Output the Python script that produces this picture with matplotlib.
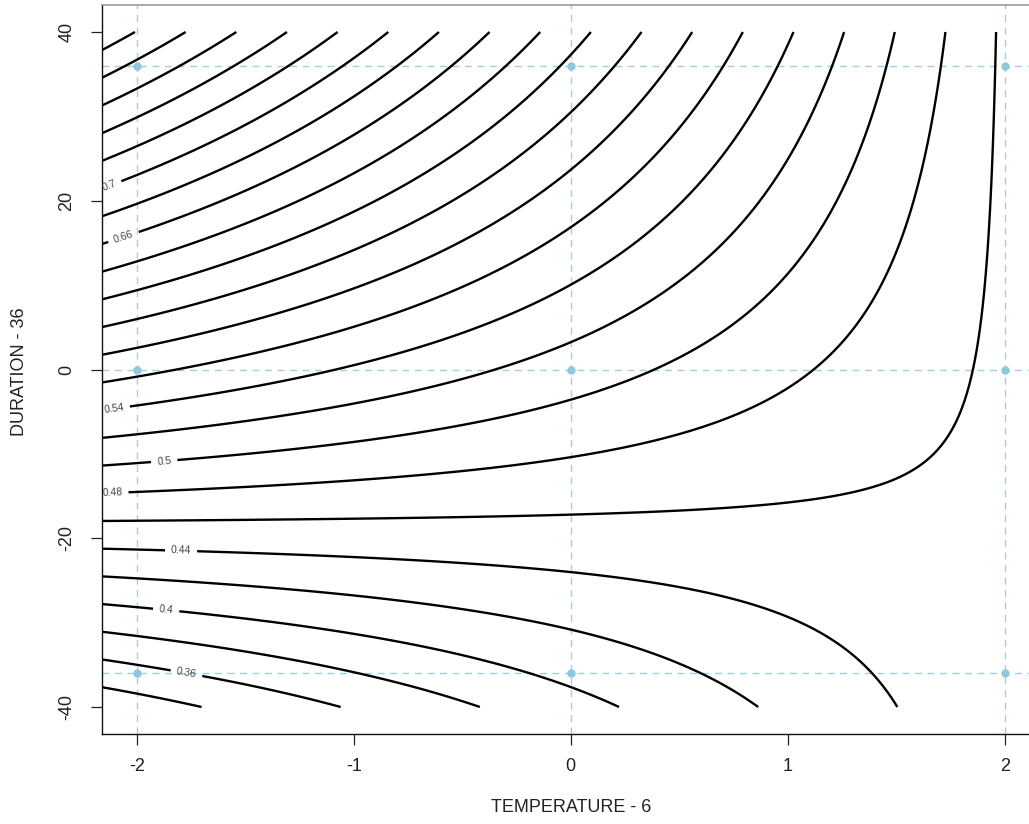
import numpy as np
import matplotlib
matplotlib.use("Agg")
import matplotlib.pyplot as plt

plt.rcParams['font.family'] = ['Liberation Sans', 'DejaVu Sans']

# ---- data ----
# fitted response-surface coefficients (coded units): yield = b0 + bT*T + bD*D + bTD*T*D
b0 = 0.5105
bT = -0.02725
bD = 0.002936
bTD = -0.001461

temperature_range = [-2.16, 2.16]
duration_range = [-40, 40]

contour_levels = [0.34, 0.36, 0.38, 0.40, 0.42, 0.44, 0.46, 0.48, 0.50, 0.52,
                  0.54, 0.56, 0.58, 0.60, 0.62, 0.64, 0.66, 0.68, 0.70, 0.72,
                  0.74, 0.76, 0.78, 0.80]
labelled_levels = [0.36, 0.40, 0.44, 0.48, 0.50, 0.54, 0.66, 0.70]

design_temperature = [-2, 0, 2]
design_duration = [-36, 0, 36]

temperature_ticks = [-2, -1, 0, 1, 2]
duration_ticks = [-40, -20, 0, 20, 40]

x_label = "TEMPERATURE - 6"
y_label = "DURATION - 36"

# label anchor points (layout only)
label_positions = [(-2.127, 21.7), (-2.058, 15.5), (-2.104, -4.8), (-1.873, -11.0),
                   (-2.112, -14.7), (-1.796, -21.8), (-1.865, -28.7), (-1.773, -36.3)]

# ---- figure ----
W, H = 1029, 824
fig = plt.figure(figsize=(W / 100, H / 100), dpi=100)
left_px, right_px, top_px, bottom_px = 102, 1039.5, 5, 734
ax = fig.add_axes([left_px / W, 1 - bottom_px / H,
                   (right_px - left_px) / W, (bottom_px - top_px) / H])

grid_col = '#9fd0e2'
pt_col = '#8fc8dc'
for xv in design_temperature:
    ax.axvline(xv, color=grid_col, lw=1.0, ls=(0, (5, 4)), zorder=1)
for yv in design_duration:
    ax.axhline(yv, color=grid_col, lw=1.0, ls=(0, (5, 4)), zorder=1)
DT, DD = np.meshgrid(design_temperature, design_duration)
ax.plot(DT.ravel(), DD.ravel(), 'o', color=pt_col, ms=6, mec='none', zorder=3)

tx = np.linspace(temperature_range[0], temperature_range[1], 400)
dy = np.linspace(duration_range[0], duration_range[1], 400)
T, D = np.meshgrid(tx, dy)
Z = b0 + bT * T + bD * D + bTD * T * D

ax.set_xlim(-2.16, 2.16)
ax.set_ylim(-43.2, 43.2)

cs = ax.contour(T, D, Z, levels=contour_levels, colors='black', linewidths=1.7, zorder=2)
cl = ax.clabel(cs, inline=True, inline_spacing=6,
               fontsize=7.5, fmt='%g', colors='#444444', manual=label_positions)

ax.set_xticks(temperature_ticks)
ax.set_yticks(duration_ticks)
ax.set_xticklabels([f"{t:g}" for t in temperature_ticks])
ax.set_yticklabels([f"{t:g}" for t in duration_ticks])
ax.tick_params(axis='both', length=8, width=0.9, labelsize=13, colors='#222222')
ax.tick_params(axis='x', pad=9)
ax.tick_params(axis='y', pad=11, labelrotation=90)
for lab in ax.get_yticklabels():
    lab.set_va('center')
for s in ['left', 'bottom']:
    ax.spines[s].set_color('#111111')
    ax.spines[s].set_linewidth(1.0)
ax.spines['top'].set_color('#999999')
ax.spines['top'].set_linewidth(1.2)
ax.spines['right'].set_color('#999999')

fig.text(571 / W, 1 - 807 / H, x_label, ha='center', va='center', fontsize=13, color='#222222')
fig.text(20 / W, 1 - 372 / H, y_label, ha='center', va='center', rotation=90,
         fontsize=13, color='#222222')

fig.savefig('out.png', dpi=100)
